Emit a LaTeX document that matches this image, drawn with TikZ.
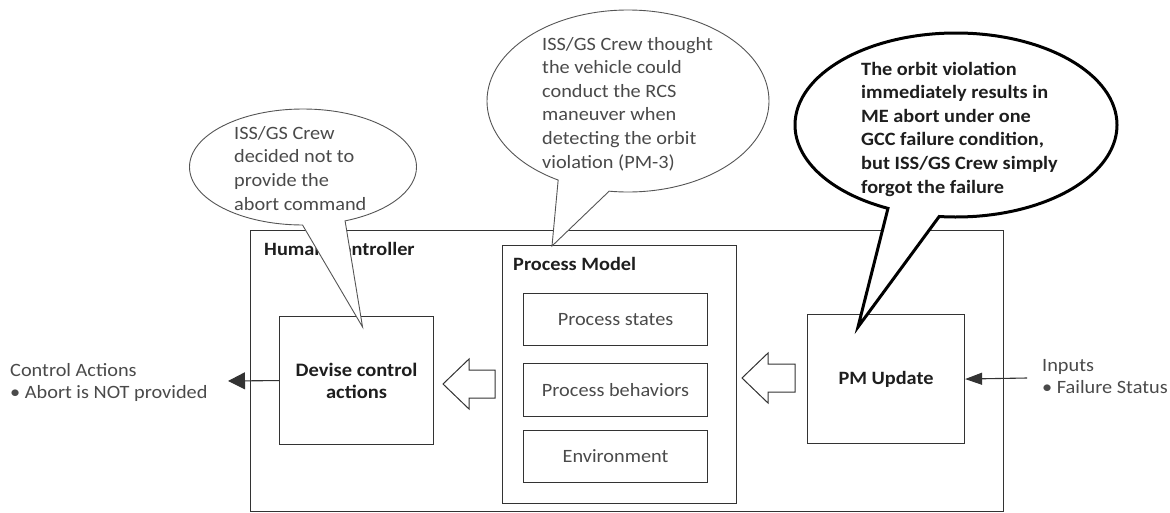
\documentclass[tikz,border=0pt]{standalone}
\usepackage{fontspec}
\setmainfont{Carlito}[FakeStretch=1.08]
\usetikzlibrary{shapes.callouts,arrows.meta,calc}
\definecolor{linec}{HTML}{333333}
\definecolor{txtc}{HTML}{4A4A4A}
\definecolor{boldc}{HTML}{1E1E1E}
\definecolor{bubc}{HTML}{555555}
\begin{document}
\begin{tikzpicture}[x=1pt,y=-1pt,
  box/.style={draw=linec, line width=1.1pt, inner sep=0pt, anchor=north west},
  plain/.style={text=txtc, font=\fontsize{18.8}{21.5}\selectfont, inner sep=0pt},
  boldtxt/.style={text=boldc, font=\fontsize{18.8}{22}\selectfont\bfseries, inner sep=0pt},
  bubtxt/.style={inner sep=0pt, align=left, anchor=base west},
  bubble/.style={ellipse callout, draw=bubc, fill=white, line width=0.9pt, inner sep=0pt},
  hollow/.style={draw=linec, line width=1pt, fill=white, line join=miter},
  flow/.style={draw=linec, line width=1.1pt}]
\useasboundingbox (0,0) rectangle (1170,512);

% controller frame and its blocks
\node[box, minimum width=753, minimum height=281] (outer) at (250,230) {};
\node[boldtxt, anchor=base west] (hclabel) at (264,255) {Human Controller};

\node[box, minimum width=154, minimum height=128] (devise) at (279,316) {};
\node[boldtxt, align=center, font=\fontsize{19}{22}\selectfont\bfseries] (devisetxt) at (devise.center) {Devise control\\actions};

\node[box, minimum width=234, minimum height=258] (pm) at (502,245) {};
\node[boldtxt, anchor=base west] (pmlabel) at (513,270) {Process Model};
\node[box, minimum width=184, minimum height=52] (states) at (523,293) {};
\node[plain] (statestxt) at (states.center) {Process states};
\node[box, minimum width=184, minimum height=53] (behav) at (523,363) {};
\node[plain] (behavtxt) at (behav.center) {Process behaviors};
\node[box, minimum width=184, minimum height=52] (env) at (523,430) {};
\node[plain] (envtxt) at (env.center) {Environment};

\node[box, minimum width=157, minimum height=129] (pmu) at (807,314) {};
\node[boldtxt] (pmutxt) at (pmu.center) {PM Update};

% hollow flow arrows between the blocks
\draw[hollow] (443,384) -- ++(26,-25) -- ++(0,11) -- ++(26,0) -- ++(0,28) -- ++(-26,0) -- ++(0,11) -- cycle;
\draw[hollow] (742,378) -- ++(26,-25) -- ++(0,11) -- ++(27,0) -- ++(0,28) -- ++(-27,0) -- ++(0,11) -- cycle;

% control actions out, inputs in
\coordinate (caEnd) at (228,381);
\draw[flow, -{Triangle[length=17pt,width=17pt]}] (devise.west) -- (caEnd);
\node[plain, align=left, anchor=base west] (catxt) at (10,398) {Control Actions\\\textbullet\ Abort is NOT provided};

\coordinate (inStart) at (1027,378);
\draw[flow, -{Triangle[length=17pt,width=12pt]}] (inStart) -- (pmu.east);
\node[plain, align=left, anchor=base west] (intxt) at (1042,393) {Inputs\\\textbullet\ Failure Status};

% speech bubbles
\node[bubble, minimum width=227, minimum height=116,
  callout absolute pointer={($(devise.north)+(6,11)$)}, callout pointer arc=22] (c1) at (303,167) {};
\node[plain, bubtxt, font=\fontsize{18.8}{23.6}\selectfont] (c1txt) at (234,210)
  {ISS/GS Crew\\decided not to\\provide the\\abort command};

\node[bubble, minimum width=282, minimum height=182,
  callout absolute pointer={($(pm.north west)+(50,1)$)}, callout pointer arc=22] (c2) at (628,101) {};
\node[plain, bubtxt, font=\fontsize{18.8}{23.6}\selectfont] (c2txt) at (542,168)
  {ISS/GS Crew thought\\the vehicle could\\conduct the RCS\\maneuver when\\detecting the orbit\\violation (PM-3)};

\node[bubble, draw=black, line width=3pt, minimum width=322, minimum height=184,
  callout absolute pointer={($(pmu.north west)+(51,13)$)}, callout pointer arc=19] (c3) at (956,125) {};
\node[boldtxt, bubtxt, font=\fontsize{18.8}{23.6}\selectfont\bfseries] (c3txt) at (861,193)
  {The orbit violation\\immediately results in\\ME abort under one\\GCC failure condition,\\but ISS/GS Crew simply\\forgot the failure};
\end{tikzpicture}
\end{document}
